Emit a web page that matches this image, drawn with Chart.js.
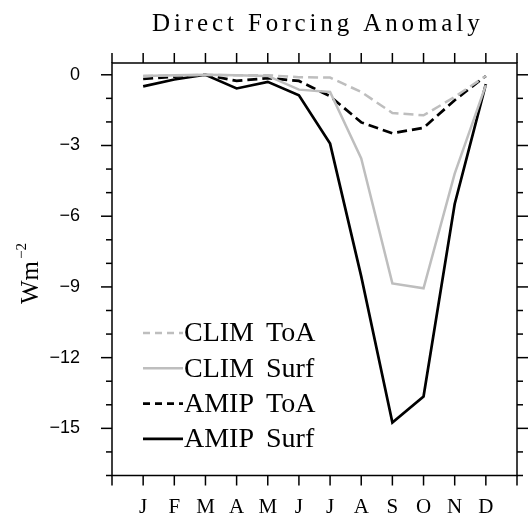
<!DOCTYPE html>
<html>
<head>
<meta charset="utf-8">
<script src="https://cdn.jsdelivr.net/npm/chart.js@4.4.0/dist/chart.umd.min.js"></script>
<style>
  body { margin: 0; background: #fff; }
  #wrap { width: 528px; height: 516px; }
</style>
</head>
<body>
<div id="wrap"><canvas id="forcing" width="528" height="516"></canvas></div>
<script>
// Month labels and series (W m-2)
const months = ['J', 'F', 'M', 'A', 'M', 'J', 'J', 'A', 'S', 'O', 'N', 'D'];
const yTickLabels = [0, -3, -6, -9, -12, -15];

const climToa  = [-0.05, -0.03, 0.0, -0.02, -0.02, -0.10, -0.12, -0.73, -1.62, -1.72, -0.94, -0.05];
const climSurf = [-0.05, -0.02, 0.0, -0.02, -0.05, -0.63, -0.73, -3.55, -8.85, -9.06, -4.19, -0.44];
const amipToa  = [-0.18, -0.08, 0.0, -0.26, -0.14, -0.26, -0.91, -2.02, -2.48, -2.25, -1.08, -0.05];
const amipSurf = [-0.49, -0.20, 0.0, -0.58, -0.30, -0.87, -2.92, -8.55, -14.75, -13.65, -5.48, -0.40];

const seriesNames = ['CLIM ToA', 'CLIM Surf', 'AMIP ToA', 'AMIP Surf'];

const GRAY = '#bebebe';
const SERIF = '"Liberation Serif", "DejaVu Serif", serif';
const SANS = '"Liberation Sans", Arial, sans-serif';

const Y_MIN = -17;
const Y_MAX = 0.5;

function toPoints(values) {
    return values.map((v, i) => ({ x: i + 1, y: v }));
}

function makeSet(label, values, color, width, dash) {
    return {
        label: label,
        data: toPoints(values),
        borderColor: color,
        borderWidth: width,
        borderDash: dash,
        pointRadius: 0,
        tension: 0,
        fill: false
    };
}

/**
 * Frame, outward tick marks, title, y title and in-plot legend
 */
const decorPlugin = {
    id: 'decor',
    afterDraw(chart) {
        const ctx = chart.ctx;
        const a = chart.chartArea;
        const xs = chart.scales.x;
        const ys = chart.scales.y;

        ctx.save();
        ctx.strokeStyle = '#000';
        ctx.lineWidth = 1.5;
        ctx.setLineDash([]);

        const seg = (x1, y1, x2, y2) => {
            ctx.beginPath();
            ctx.moveTo(x1, y1);
            ctx.lineTo(x2, y2);
            ctx.stroke();
        };

        // frame
        ctx.strokeRect(a.left, a.top, a.right - a.left, a.bottom - a.top);

        // x ticks, top and bottom, pointing out
        xs.ticks.forEach(t => {
            const px = xs.getPixelForValue(t.value);
            seg(px, a.bottom, px, a.bottom + 10);
            seg(px, a.top, px, a.top - 10);
        });

        // y ticks: major every 3, minor every 1
        ys.ticks.forEach(t => {
            const py = ys.getPixelForValue(t.value);
            const len = t.value % 3 === 0 ? 11 : 6;
            seg(a.left - len, py, a.left, py);
            seg(a.right, py, a.right + len, py);
        });

        // title
        ctx.fillStyle = '#000';
        ctx.font = '25px ' + SERIF;
        ctx.textAlign = 'left';
        ctx.textBaseline = 'alphabetic';
        ctx.letterSpacing = '3.9px';
        ctx.fillText('Direct Forcing Anomaly', 152, 31);
        ctx.letterSpacing = '0px';

        // y axis title Wm^-2
        ctx.save();
        ctx.translate(38, 304);
        ctx.rotate(-Math.PI / 2);
        ctx.font = '25px ' + SERIF;
        ctx.fillText('Wm', 0, 0);
        const w = ctx.measureText('Wm').width;
        ctx.font = '15px ' + SERIF;
        ctx.fillText('\u22122', w + 2, -12);
        ctx.restore();

        // legend
        ctx.font = '28px ' + SERIF;
        ctx.textBaseline = 'middle';
        ctx.wordSpacing = '5px';
        chart.data.datasets.forEach((ds, i) => {
            const y = 333 + i * 35.3;
            ctx.strokeStyle = ds.borderColor;
            ctx.lineWidth = ds.borderWidth;
            ctx.setLineDash(ds.borderDash.length ? [7, 5] : []);
            seg(143, y, 183, y);
            ctx.fillText(ds.label, 184, y + 1);
        });

        ctx.restore();
    }
};

const chart = new Chart(document.getElementById('forcing'), {
    type: 'line',
    data: {
        datasets: [
            makeSet(seriesNames[0], climToa, GRAY, 2.5, [10, 5]),
            makeSet(seriesNames[1], climSurf, GRAY, 2.5, []),
            makeSet(seriesNames[2], amipToa, '#000', 2.7, [10, 5]),
            makeSet(seriesNames[3], amipSurf, '#000', 2.7, [])
        ]
    },
    options: {
        responsive: false,
        animation: false,
        layout: {
            padding: { top: 63, right: 3, left: 0, bottom: 0 }
        },
        plugins: {
            legend: { display: false },
            title: { display: false },
            tooltip: { enabled: false }
        },
        scales: {
            x: {
                type: 'linear',
                min: 0,
                max: 13,
                grid: { display: false },
                border: { display: false },
                afterFit: (s) => { s.height = 40.5; },
                ticks: {
                    stepSize: 1,
                    autoSkip: false,
                    maxRotation: 0,
                    padding: 11,
                    color: '#000',
                    font: { family: SERIF, size: 21 },
                    callback: (v) => months[v - 1] || ''
                }
            },
            y: {
                min: Y_MIN,
                max: Y_MAX,
                grid: { display: false },
                border: { display: false },
                afterFit: (s) => { s.width = 112; },
                // one tick per whole unit; labels only on every third
                afterBuildTicks: (s) => {
                    const ticks = [];
                    for (let v = Math.ceil(Y_MIN); v <= Math.floor(Y_MAX); v++) {
                        ticks.push({ value: v });
                    }
                    s.ticks = ticks;
                },
                ticks: {
                    autoSkip: false,
                    padding: 24,
                    color: '#000',
                    font: { family: SANS, size: 18 },
                    callback: (v) => {
                        if (!yTickLabels.includes(v)) return '';
                        return v < 0 ? '\u2212' + (-v) : String(v);
                    }
                }
            }
        }
    },
    plugins: [decorPlugin]
});
</script>
</body>
</html>
